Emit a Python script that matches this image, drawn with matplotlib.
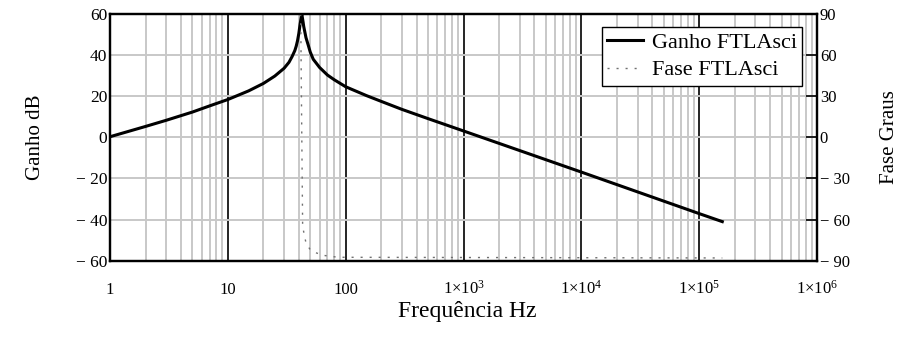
import numpy as np
import matplotlib
matplotlib.use("Agg")
import matplotlib.pyplot as plt
from matplotlib.ticker import NullFormatter, LogLocator

plt.rcParams['font.family'] = ['Liberation Serif', 'DejaVu Serif']
plt.rcParams['mathtext.fontset'] = 'custom'
plt.rcParams['mathtext.rm'] = 'Liberation Serif'
plt.rcParams['mathtext.default'] = 'regular'

# ganho (dB)
freq_gain = [1, 2, 3, 5, 7, 10, 15, 20, 25, 30, 33, 35, 37, 38, 39, 40, 41, 42.4,
             43.5, 44, 46, 48, 50, 53, 60, 70, 80, 100, 150, 200, 300, 500,
             1e3, 1e4, 1e5, 1.57e5]
gain_db = [0.3, 5.3, 8.3, 12.3, 15.3, 18.4, 22.6, 26.2, 29.8, 33.6, 36.5, 39.2,
           42.2, 44.3, 47.0, 50.5, 55.0, 60.0,
           56.0, 54.0, 48.5, 45.0, 41.5, 38.0, 34.0, 30.3, 28.0, 24.6, 20.3,
           17.5, 13.6, 9.1, 3.1, -16.9, -37.1, -41.0]

# fase (graus)
freq_phase = [1, 20, 38, 41.5, 42.4, 43.1, 44.5, 46, 50, 55, 64, 76, 90, 1.57e5]
phase_deg = [90, 90, 90, 89, 0, -65, -71, -77, -82, -84, -86, -87, -87.5, -88]

x_ticks = [1, 10, 100, 1e3, 1e4, 1e5, 1e6]
x_labels = ['1', '10', '100', '1×10$^{3}$', '1×10$^{4}$', '1×10$^{5}$', '1×10$^{6}$']
y_ticks = [-60, -40, -20, 0, 20, 40, 60]
y_labels = ['\u2212 60', '\u2212 40', '\u2212 20', '0', '20', '40', '60']
y2_ticks = [-90, -60, -30, 0, 30, 60, 90]
y2_labels = ['\u2212 90', '\u2212 60', '\u2212 30', '0', '30', '60', '90']

fig = plt.figure(figsize=(9.17, 3.47), dpi=100)
ax = fig.add_axes([0.12, 0.2487, 0.771, 0.711])
ax2 = ax.twinx()

ax.set_xscale('log')
ax.set_xlim(1, 1e6)
ax.set_ylim(-60, 60)
ax2.set_ylim(-90, 90)

# grade
ax.xaxis.set_minor_locator(LogLocator(base=10, subs=np.arange(2, 10), numticks=20))
ax.xaxis.set_minor_formatter(NullFormatter())
ax.grid(True, which='minor', axis='x', color='#c8c8c8', lw=1.4)
ax.grid(True, which='major', axis='x', color='black', lw=1.2)
ax.grid(True, which='major', axis='y', color='#c8c8c8', lw=1.4)
ax.set_axisbelow(True)

ln1, = ax.plot(freq_gain, gain_db, color='black', lw=2.2, label='Ganho FTLAsci')
ln2, = ax2.plot(freq_phase, phase_deg, color='#707070', lw=1.0,
                linestyle=(0, (1.5, 5)), label='Fase FTLAsci')

ax.set_xticks(x_ticks, x_labels)
ax.set_yticks(y_ticks, y_labels)
ax2.set_yticks(y2_ticks, y2_labels)

ax.tick_params(axis='x', which='both', length=0, labelsize=12, pad=24)
ax.tick_params(axis='y', length=0, labelsize=12.5, pad=2)
ax2.tick_params(axis='y', direction='in', length=8, width=1.2, labelsize=12, pad=2)
for lbl in ax.get_xticklabels():
    lbl.set_va('baseline')

for a in (ax, ax2):
    for s in a.spines.values():
        s.set_linewidth(1.6)

leg = ax2.legend(handles=[ln1, ln2], loc='upper right', bbox_to_anchor=(0.979, 0.947),
                 borderaxespad=0, fontsize=16, frameon=True, fancybox=False,
                 edgecolor='black', framealpha=1, handlelength=1.6, handletextpad=0.4,
                 borderpad=0.25, labelspacing=0.3)
leg.get_frame().set_linewidth(1.0)

fig.text(35 / 917, 1 - 137 / 347, 'Ganho dB', rotation=90, ha='center', va='center', fontsize=15)
fig.text(890 / 917, 1 - 137 / 347, 'Fase Graus', rotation=90, ha='center', va='center', fontsize=15)
fig.text(467 / 917, 1 - 311 / 347, 'Frequência Hz', ha='center', va='center', fontsize=17)

fig.savefig('out.png', dpi=100)
